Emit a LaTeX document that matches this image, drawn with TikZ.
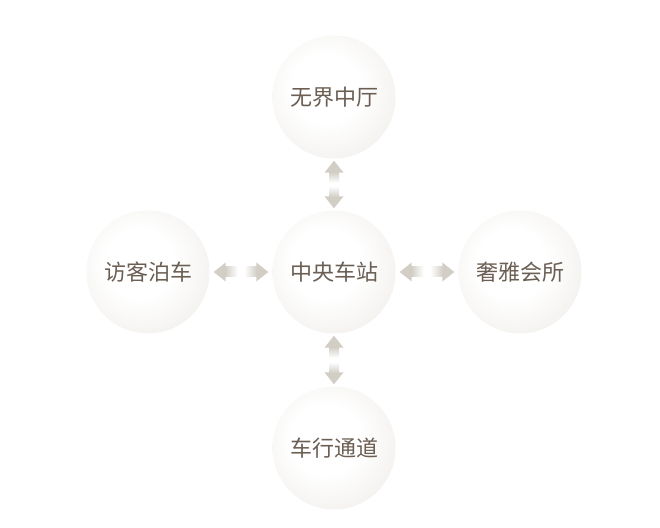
\documentclass[tikz,border=0pt]{standalone}
\usepackage{fontspec}
\newfontfamily\cjk{Noto Sans CJK SC}
\usetikzlibrary{calc}
\definecolor{edgecol}{HTML}{DEDAD2}
\definecolor{headcol}{HTML}{D2CEC5}
\definecolor{txtcol}{HTML}{6B5E52}
\pgfdeclareradialshading{ballshade}{\pgfpoint{-4bp}{4bp}}{%
  color(0bp)=(white); color(14bp)=(white); color(32bp)=(edgecol!40!white);
  color(45bp)=(edgecol!88!white); color(52bp)=(edgecol); color(100bp)=(edgecol)}
\tikzset{
  ball/.style={circle, minimum size=123pt, inner sep=0pt, shade, shading=ballshade,
    text=txtcol, font=\cjk\fontsize{22}{22}\selectfont},
}
\newcommand\harrowlr[3]{% left tip, right tip, shaft length
  \fill[headcol] (#1) -- ($(#1)+(12,9.5)$) -- ($(#1)+(12,-9.5)$) -- cycle;
  \shade[left color=headcol, right color=white] ($(#1)+(11.5,-5)$) rectangle ($(#1)+(12+#3,5)$);
  \fill[headcol] (#2) -- ($(#2)+(-12,9.5)$) -- ($(#2)+(-12,-9.5)$) -- cycle;
  \shade[left color=white, right color=headcol] ($(#2)+(-12-#3,-5)$) rectangle ($(#2)+(-11.5,5)$);
}
\newcommand\varrowtb[3]{% top tip, bottom tip, shaft length
  \fill[headcol] (#1) -- ($(#1)+(9.5,-12)$) -- ($(#1)+(-9.5,-12)$) -- cycle;
  \shade[top color=headcol, bottom color=white] ($(#1)+(-5,-11.5)$) rectangle ($(#1)+(5,-12-#3)$);
  \fill[headcol] (#2) -- ($(#2)+(9.5,12)$) -- ($(#2)+(-9.5,12)$) -- cycle;
  \shade[top color=white, bottom color=headcol] ($(#2)+(-5,12+#3)$) rectangle ($(#2)+(5,11.5)$);
}
\begin{document}
\begin{tikzpicture}[x=1pt,y=1pt]
\fill[white] (0,0) rectangle (660,527);
\useasboundingbox (0,0) rectangle (660,527);
\node[ball] (C) at (334,255) {中央车站};
\node[ball] (T) at (334,430) {无界中厅};
\node[ball] (B) at (334,79) {车行通道};
\node[ball] (L) at (148,255) {访客泊车};
\node[ball] (R) at (520,255) {奢雅会所};
% connectors
\coordinate (lc1) at ($(L.east)+(4,0)$);
\coordinate (lc2) at ($(C.west)+(-4,0)$);
\coordinate (cr1) at ($(C.east)+(4,0)$);
\coordinate (cr2) at ($(R.west)+(-4,0)$);
\coordinate (tc1) at ($(T.south)+(0,-2)$);
\coordinate (tc2) at ($(C.north)+(0,2)$);
\coordinate (cb1) at ($(C.south)+(0,-2)$);
\coordinate (cb2) at ($(B.north)+(0,2)$);
\harrowlr{lc1}{lc2}{12}
\harrowlr{cr1}{cr2}{12}
\varrowtb{tc1}{tc2}{10}
\varrowtb{cb1}{cb2}{10}
\end{tikzpicture}
\end{document}
